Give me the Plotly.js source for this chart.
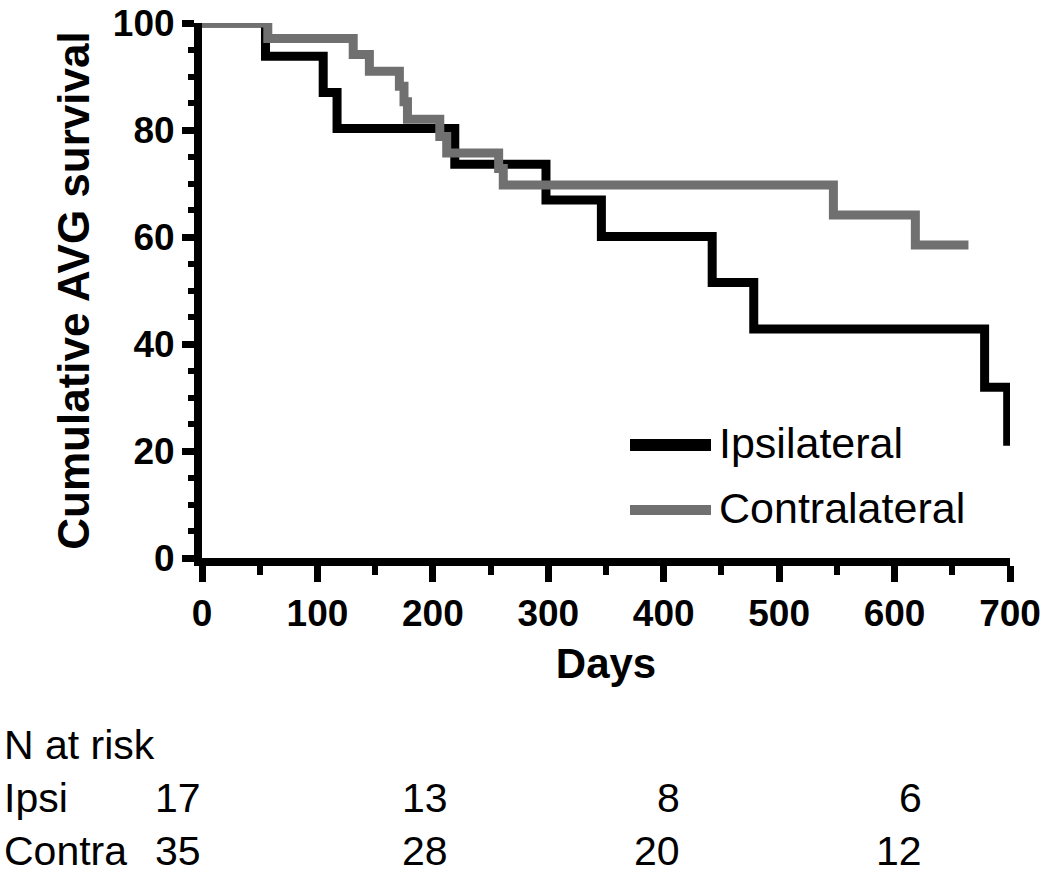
<!DOCTYPE html>
<html>
<head>
<meta charset="utf-8">
<script src="https://cdn.plot.ly/plotly-3.0.1.min.js"></script>
<style>html,body{margin:0;padding:0;background:#fff;}#chart{width:1050px;height:875px;}</style>
</head>
<body>
<div id="chart"></div>
<script>
// Kaplan-Meier step data (days, % surviving)
var ipsiDays = [0, 55, 105, 117, 219, 298, 346, 442, 478, 678, 698];
var ipsiSurv = [100, 93.8, 87.0, 80.3, 73.6, 66.9, 60.1, 51.5, 42.8, 31.9, 21.0];
var contraDays = [0, 57, 131, 145, 171, 175, 178, 206, 212, 257, 261, 547, 618, 664];
var contraSurv = [100, 97.1, 94.1, 91.0, 88.2, 85.3, 82.0, 78.8, 75.7, 72.8, 69.7, 64.1, 58.5, 58.5];
var seriesNames = ['Ipsilateral', 'Contralateral'];
var riskRowLabels = ['Ipsi', 'Contra'];
var riskIpsi = [17, 13, 8, 6];
var riskContra = [35, 28, 20, 12];

var FONT = 'Liberation Sans, Arial, Helvetica, sans-serif';
var L = 202, R = 1010, T = 23, B = 558;
function px(x) { return (x - L) / (R - L); }
function py(y) { return (B - y) / (B - T); }

var traces = [
  { x: ipsiDays, y: ipsiSurv, name: seriesNames[0], type: 'scatter', mode: 'lines',
    line: { shape: 'hv', color: '#000000', width: 9 }, hoverinfo: 'skip' },
  { x: contraDays, y: contraSurv, name: seriesNames[1], type: 'scatter', mode: 'lines',
    line: { shape: 'hv', color: '#707070', width: 9 }, hoverinfo: 'skip' }
];

var annotations = [];
var shapes = [];
// legend
var legendY = [445, 510];
var legendColors = ['#000000', '#707070'];
var legendW = [12, 10];
for (var i = 0; i < 2; i++) {
  shapes.push({ type: 'line', xref: 'paper', yref: 'paper', x0: px(630), x1: px(711),
    y0: py(legendY[i]), y1: py(legendY[i]), line: { color: legendColors[i], width: legendW[i] } });
  annotations.push({ xref: 'paper', yref: 'paper', x: px(717), y: py(legendY[i] - 2),
    xanchor: 'left', yanchor: 'middle', showarrow: false, text: seriesNames[i],
    font: { family: FONT, size: 43, color: '#000' } });
}
// N at risk table
var colRight = [203, 450, 682, 924];
var rowY = [745, 798, 851];
annotations.push({ xref: 'paper', yref: 'paper', x: px(2), y: py(rowY[0]), xanchor: 'left', yanchor: 'middle',
  showarrow: false, text: 'N at risk', font: { family: FONT, size: 41, color: '#000' } });
var rows = [riskIpsi, riskContra];
for (var r = 0; r < 2; r++) {
  annotations.push({ xref: 'paper', yref: 'paper', x: px(2), y: py(rowY[r + 1]), xanchor: 'left', yanchor: 'middle',
    showarrow: false, text: riskRowLabels[r], font: { family: FONT, size: 41, color: '#000' } });
  for (var c = 0; c < rows[r].length; c++) {
    annotations.push({ xref: 'paper', yref: 'paper', x: px(colRight[c]), y: py(rowY[r + 1]), xanchor: 'right', yanchor: 'middle',
      showarrow: false, text: String(rows[r][c]), font: { family: FONT, size: 41, color: '#000' } });
  }
}

var layout = {
  width: 1050, height: 875,
  margin: { l: L, r: 1050 - R, t: T, b: 875 - B, pad: 0 },
  paper_bgcolor: '#ffffff', plot_bgcolor: '#ffffff',
  showlegend: false,
  font: { family: FONT, color: '#000' },
  xaxis: {
    range: [0, 700], dtick: 100, tick0: 0,
    showline: true, linewidth: 8, linecolor: '#000',
    ticks: 'outside', ticklen: 16, tickwidth: 7, tickcolor: '#000',
    minor: { dtick: 50, ticks: 'outside', ticklen: 9, tickwidth: 6, tickcolor: '#000', showgrid: false },
    showgrid: false, zeroline: false,
    tickfont: { family: FONT, size: 37, weight: 'bold', color: '#000' },
    title: { text: 'Days', font: { family: FONT, size: 42, weight: 'bold', color: '#000' }, standoff: 18 }
  },
  yaxis: {
    range: [0, 100], dtick: 20, tick0: 0,
    showline: true, linewidth: 8, linecolor: '#000',
    ticks: 'outside', ticklen: 12, tickwidth: 7, tickcolor: '#000',
    minor: { dtick: 5, ticks: 'outside', ticklen: 6, tickwidth: 6, tickcolor: '#000', showgrid: false },
    showgrid: false, zeroline: false,
    tickfont: { family: FONT, size: 37, weight: 'bold', color: '#000' },
    title: { text: 'Cumulative AVG survival', font: { family: FONT, size: 44, weight: 'bold', color: '#000' }, standoff: 12 }
  },
  shapes: shapes,
  annotations: annotations
};

Plotly.newPlot('chart', traces, layout, { displayModeBar: false, staticPlot: true });
</script>
</body>
</html>
